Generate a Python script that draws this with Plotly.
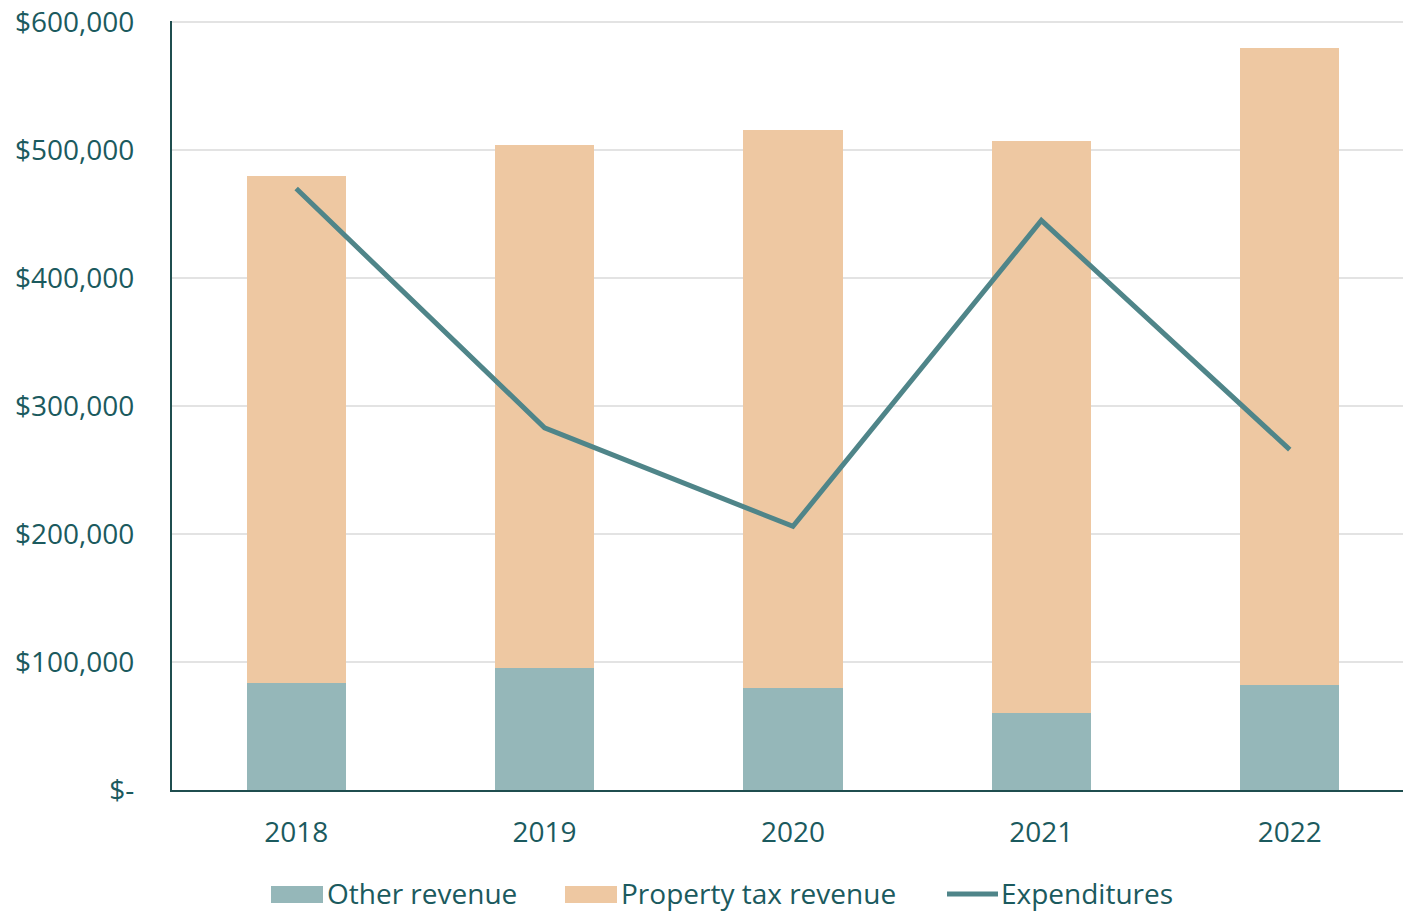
import plotly.graph_objects as go

years = ["2018", "2019", "2020", "2021", "2022"]
other_revenue = [84000, 95000, 80000, 60000, 82000]
total_revenue = [480000, 504000, 516000, 507000, 580000]
property_tax_revenue = [t - o for t, o in zip(total_revenue, other_revenue)]
expenditures = [470000, 283000, 206000, 445000, 266000]

y_tickvals = [0, 100000, 200000, 300000, 400000, 500000, 600000]
y_ticktext = ["$-", "$100,000", "$200,000", "$300,000", "$400,000", "$500,000", "$600,000"]

TEXT = "#1b5a5e"
FONT = "Open Sans"
C_OTHER = "#95b7b9"
C_PROP = "#eec8a2"
C_EXP = "#4f8589"

W, H = 1403, 913
L, T = 172, 21
PLOT_BOTTOM = 790
B = H - PLOT_BOTTOM
PW, PH = W - L, PLOT_BOTTOM - T

fig = go.Figure()
fig.add_trace(go.Bar(x=years, y=other_revenue, name="Other revenue",
                     marker=dict(color=C_OTHER, line=dict(width=0))))
fig.add_trace(go.Bar(x=years, y=property_tax_revenue, name="Property tax revenue",
                     marker=dict(color=C_PROP, line=dict(width=0))))
fig.add_trace(go.Scatter(x=years, y=expenditures, name="Expenditures", mode="lines",
                         line=dict(color=C_EXP, width=5)))


def px(xp):
    return (xp - L) / PW


def py(yp):
    return (PLOT_BOTTOM - yp) / PH


shapes = [
    dict(type="rect", xref="paper", yref="paper", x0=px(271), x1=px(323), y0=py(903), y1=py(886),
         fillcolor=C_OTHER, line=dict(width=0)),
    dict(type="rect", xref="paper", yref="paper", x0=px(565), x1=px(617), y0=py(903), y1=py(886),
         fillcolor=C_PROP, line=dict(width=0)),
    dict(type="line", xref="paper", yref="paper", x0=px(947), x1=px(998), y0=py(894), y1=py(894),
         line=dict(color=C_EXP, width=5)),
]
legend_items = [("Other revenue", 325), ("Property tax revenue", 619), ("Expenditures", 999)]
annotations = [
    dict(text=t, xref="paper", yref="paper", x=px(xp), y=py(893), xanchor="left", yanchor="middle",
         showarrow=False, font=dict(family=FONT, size=28, color=TEXT))
    for t, xp in legend_items
]

fig.update_layout(
    width=W, height=H,
    margin=dict(l=L, r=0, t=T, b=B, autoexpand=False),
    barmode="stack", bargap=0.6,
    plot_bgcolor="white", paper_bgcolor="white",
    font=dict(family=FONT, size=28, color=TEXT),
    showlegend=False,
    shapes=shapes,
    annotations=annotations,
    xaxis=dict(range=[-0.5, 4.456], showgrid=False, showline=True, linecolor="#1f4e4f",
               linewidth=2, ticks="", tickfont=dict(size=28, color=TEXT), ticklabelstandoff=16,
               automargin=False),
    yaxis=dict(range=[0, 600900], tickvals=y_tickvals, ticktext=y_ticktext,
               showgrid=True, gridcolor="#e3e3e3", gridwidth=2,
               showline=True, linecolor="#1f4e4f", linewidth=2, ticks="",
               tickfont=dict(size=28, color=TEXT), ticklabelstandoff=30, zeroline=False,
               ticklabeloverflow="allow", automargin=False),
)

fig.write_html("out.html", config={"displayModeBar": False},
               post_script="document.body.style.margin='0';document.body.style.padding='0';")
